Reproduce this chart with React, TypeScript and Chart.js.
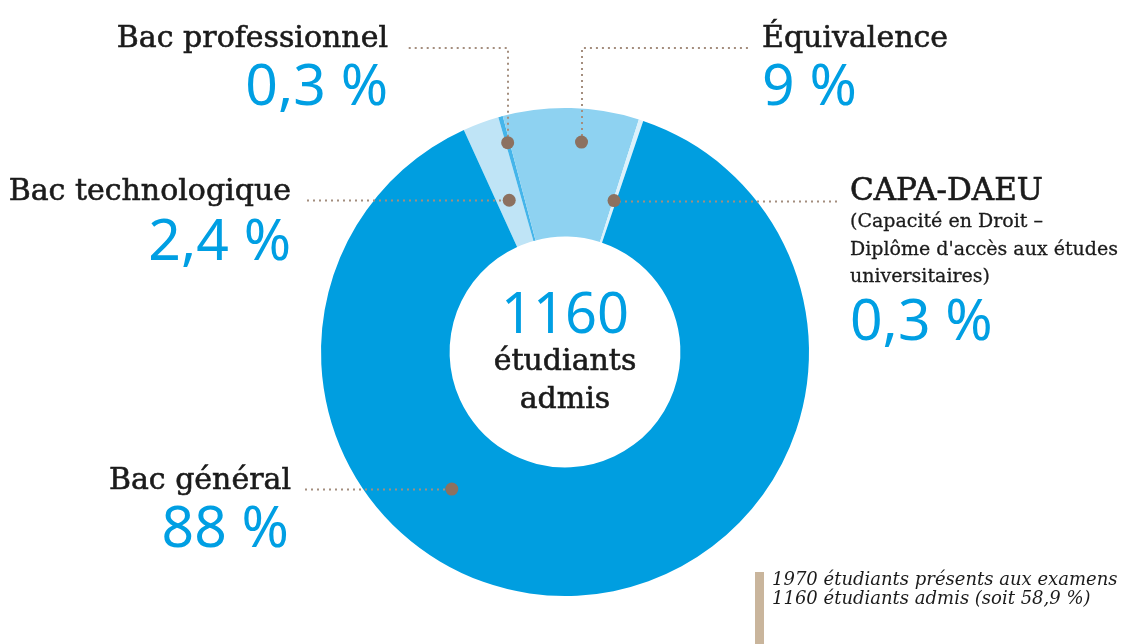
import { useEffect, useRef } from "react";
import { Chart, registerables } from "chart.js";

Chart.register(...registerables);

// ---- Data ----
const categories = ["Bac technologique", "Bac professionnel", "Équivalence", "CAPA-DAEU", "Bac général"];
const shares = [2.4, 0.3, 9, 0.3, 88];
const shareLabels = ["2,4 %", "0,3 %", "9 %", "0,3 %", "88 %"];
const segmentColors = ["#bfe4f6", "#45b5ea", "#8ed2f1", "#dcf1fb", "#009ee0"];
const centerValue = "1160";
const centerLines = ["étudiants", "admis"];
const capaDetail = ["(Capacité en Droit –", "Diplôme d'accès aux études", "universitaires)"];
const footnotes = ["1970 étudiants présents aux examens", "1160 étudiants admis (soit 58,9 %)"];

// ---- Styling / layout (not data) ----
const W = 1139;
const H = 644;
const BLUE = "#009fe3";
const INK = "#1b1b1b";
const SERIF = "'DejaVu Serif', serif";
const SANS = "'Noto Sans', sans-serif";

// leader annotations: t = fraction of the arc's sweep, f = fraction of ring thickness
const leaders = [
  { index: 0, t: 0.5, f: 0.36, kind: "h", toX: 307, y: 0 },
  { index: 1, t: 0.5, f: 0.79, kind: "elbow", toX: 407, y: 48 },
  { index: 2, t: 0.595, f: 0.74, kind: "elbow", toX: 748, y: 48 },
  { index: 3, t: 0.3, f: 0.34, kind: "h", toX: 837, y: 0 },
  { index: 4, t: 0.634, f: 0.485, kind: "h", toX: 305, y: 0 },
];

const leaderPlugin = {
  id: "leaders",
  afterDatasetsDraw(chart: any) {
    const meta = chart.getDatasetMeta(0);
    const ctx = chart.ctx as CanvasRenderingContext2D;
    leaders.forEach((l) => {
      const arc = meta.data[l.index];
      if (!arc) return;
      const p = arc.getProps(["x", "y", "startAngle", "endAngle", "innerRadius", "outerRadius"], true);
      const a = p.startAngle + l.t * (p.endAngle - p.startAngle);
      const r = p.innerRadius + l.f * (p.outerRadius - p.innerRadius);
      const px = p.x + r * Math.cos(a);
      const py = p.y + r * Math.sin(a);
      ctx.save();
      ctx.strokeStyle = "#a48e7e";
      ctx.lineWidth = 2;
      ctx.setLineDash([2, 4]);
      ctx.beginPath();
      if (l.kind === "h") {
        ctx.moveTo(l.toX, Math.round(py) + 0.5);
        ctx.lineTo(px, Math.round(py) + 0.5);
      } else {
        ctx.moveTo(Math.round(px), py);
        ctx.lineTo(Math.round(px), l.y);
        ctx.lineTo(l.toX, l.y);
      }
      ctx.stroke();
      ctx.setLineDash([]);
      ctx.fillStyle = "#8c7160";
      ctx.beginPath();
      ctx.arc(px, py, 6.5, 0, Math.PI * 2);
      ctx.fill();
      ctx.restore();
    });
  },
};

export default function App() {
  const canvasRef = useRef<HTMLCanvasElement | null>(null);

  useEffect(() => {
    if (!canvasRef.current) return;
    const chart = new Chart(canvasRef.current, {
      type: "doughnut",
      data: {
        labels: categories,
        datasets: [
          {
            data: shares,
            backgroundColor: segmentColors,
            borderWidth: 0,
            hoverOffset: 0,
          },
        ],
      },
      options: {
        responsive: true,
        maintainAspectRatio: false,
        animation: false,
        rotation: -24.5,
        cutout: "47.3%",
        radius: 244,
        layout: { padding: { left: 321, right: 330, top: 108, bottom: 48 } },
        plugins: {
          legend: { display: false },
          tooltip: { enabled: false },
        },
        events: [],
      },
      plugins: [leaderPlugin],
    });
    return () => chart.destroy();
  }, []);

  const label = (text: string, x: number, y: number, anchor: string, size = 30) => (
    <text x={x} y={y} textAnchor={anchor} fontFamily={SERIF} fontSize={size} fill={INK} stroke={INK} strokeWidth={0.6}>
      {text}
    </text>
  );
  const pct = (text: string, x: number, y: number, anchor: string) => (
    <text x={x} y={y} textAnchor={anchor} fontFamily={SANS} fontSize={57} fill={BLUE}>
      {text}
    </text>
  );

  return (
    <div style={{ position: "fixed", left: 0, top: 0, width: W, height: H, background: "#fff" }}>
      <canvas ref={canvasRef} style={{ position: "absolute", left: 0, top: 0, width: W, height: H }} />
      <svg width={W} height={H} style={{ position: "absolute", left: 0, top: 0, pointerEvents: "none" }}>
        {label(categories[1], 388, 47, "end")}
        {pct(shareLabels[1], 388, 105, "end")}
        {label(categories[0], 291, 200, "end")}
        {pct(shareLabels[0], 291, 260, "end")}
        {label(categories[4], 291, 489, "end")}
        {pct(shareLabels[4], 289, 547, "end")}

        {label(categories[2], 762, 47, "start")}
        {pct(shareLabels[2], 762, 105, "start")}
        {label(categories[3], 850, 200, "start", 31)}
        {capaDetail.map((t, i) => (
          <text key={t} x={850} y={227 + i * 27.5} fontFamily={SERIF} fontSize={19} fill={INK} stroke={INK} strokeWidth={0.3}>
            {t}
          </text>
        ))}
        {pct(shareLabels[3], 850, 340, "start")}

        <text x={565} y={333} textAnchor="middle" fontFamily={SANS} fontSize={56} fill={BLUE}>
          {centerValue}
        </text>
        {centerLines.map((t, i) => (
          <text key={t} x={565} y={370 + i * 38} textAnchor="middle" fontFamily={SERIF} fontSize={30} fill={INK} stroke={INK} strokeWidth={0.6}>
            {t}
          </text>
        ))}

        <rect x={755} y={572} width={9} height={72} fill="#c9b59c" />
        {footnotes.map((t, i) => (
          <text key={t} x={772} y={585 + i * 18.5} fontFamily={SERIF} fontStyle="italic" fontSize={18} fill={INK}>
            {t}
          </text>
        ))}
      </svg>
    </div>
  );
}
